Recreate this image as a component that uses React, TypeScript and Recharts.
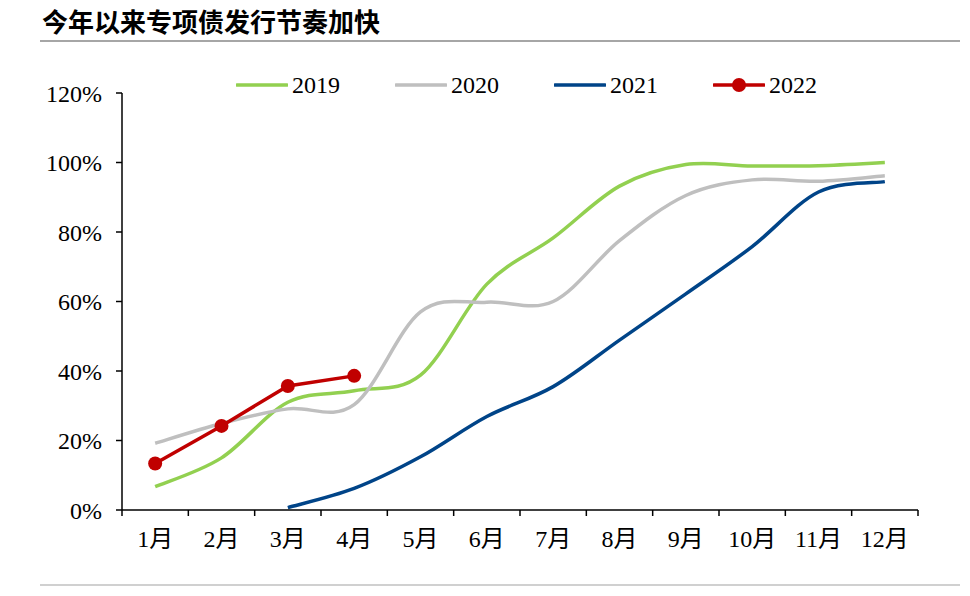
import React from "react";
import { LineChart, Line, XAxis, YAxis } from "recharts";

const months = ["1月", "2月", "3月", "4月", "5月", "6月", "7月", "8月", "9月", "10月", "11月", "12月"];
const s2019 = [6.7, 15.0, 31.0, 34.3, 38.8, 65.0, 78.3, 93.2, 99.4, 99.0, 99.1, 100.0];
const s2020 = [19.2, 24.9, 29.1, 30.3, 57.0, 59.8, 60.0, 77.5, 90.5, 95.0, 94.6, 96.2];
const s2021 = [null, null, 0.7, 6.2, 15.3, 26.9, 35.5, 48.9, 62.2, 75.8, 91.5, 94.5];
const s2022 = [13.4, 24.2, 35.7, 38.6, null, null, null, null, null, null, null, null];
const yTicks = [0, 20, 40, 60, 80, 100, 120];

const series = [
  { key: "y2019", name: "2019", color: "#92D050", dot: false },
  { key: "y2020", name: "2020", color: "#BFBFBF", dot: false },
  { key: "y2021", name: "2021", color: "#004488", dot: false },
  { key: "y2022", name: "2022", color: "#C00000", dot: true },
];

const data = months.map((m, i) => ({
  x: i + 0.5,
  month: m,
  y2019: s2019[i],
  y2020: s2020[i],
  y2021: s2021[i],
  y2022: s2022[i],
}));

const allTicks: number[] = [];
for (let i = 0; i <= months.length; i++) {
  allTicks.push(i);
  if (i < months.length) allTicks.push(i + 0.5);
}

const serif = "'Liberation Serif', 'Times New Roman', 'Noto Sans CJK SC', serif";

// Catmull-Rom style smoothing similar to spreadsheet "smoothed line"
function smoothCurve(context: any) {
  let pts: number[][] = [];
  return {
    areaStart() {},
    areaEnd() {},
    lineStart() {
      pts = [];
    },
    point(x: number, y: number) {
      pts.push([+x, +y]);
    },
    lineEnd() {
      const n = pts.length;
      if (!n) return;
      context.moveTo(pts[0][0], pts[0][1]);
      if (n === 1) {
        context.lineTo(pts[0][0], pts[0][1]);
        return;
      }
      for (let i = 0; i < n - 1; i++) {
        const p0 = pts[i - 1] || pts[i];
        const p1 = pts[i];
        const p2 = pts[i + 1];
        const p3 = pts[i + 2] || pts[i + 1];
        const c1x = p1[0] + (p2[0] - p0[0]) / 6;
        const c1y = p1[1] + (p2[1] - p0[1]) / 6;
        const c2x = p2[0] - (p3[0] - p1[0]) / 6;
        const c2y = p2[1] - (p3[1] - p1[1]) / 6;
        context.bezierCurveTo(c1x, c1y, c2x, c2y, p2[0], p2[1]);
      }
    },
  };
}

function XTick(props: any) {
  const { x, y, payload } = props;
  const v = payload.value as number;
  if (Number.isInteger(v)) {
    return <line x1={x} y1={y} x2={x} y2={y + 6} stroke="#000" strokeWidth={1.5} />;
  }
  return (
    <text x={x} y={y + 31} textAnchor="middle" dominantBaseline="middle" fill="#000" fontSize={24} fontFamily={serif}>
      {months[Math.round(v - 0.5)]}
    </text>
  );
}

export default function App() {
  return (
    <div style={{ position: "absolute", left: 0, top: 0, width: 970, height: 596, background: "#fff" }}>
      <div
        style={{
          position: "absolute",
          left: 42,
          top: 4,
          fontFamily: "'Noto Sans CJK SC', sans-serif",
          fontWeight: 700,
          fontSize: 26,
          lineHeight: "34px",
          color: "#000",
        }}
      >
        今年以来专项债发行节奏加快
      </div>
      <div style={{ position: "absolute", left: 40, top: 40, width: 920, height: 2, background: "#A6A6A6" }} />
      <div style={{ position: "absolute", left: 40, top: 584, width: 920, height: 2, background: "#D0D0D0" }} />
      <div
        style={{
          position: "absolute",
          left: 236,
          top: 70,
          height: 30,
          display: "flex",
          alignItems: "center",
          fontFamily: serif,
          fontSize: 24,
          color: "#000",
        }}
      >
        {series.map((s, i) => (
          <div key={s.key} style={{ display: "flex", alignItems: "center", marginRight: i < 3 ? 55 : 0 }}>
            <svg width={52} height={20} style={{ display: "block" }}>
              <line x1={1} y1={10} x2={51} y2={10} stroke={s.color} strokeWidth={3.5} strokeLinecap="round" />
              {s.dot && <circle cx={26} cy={10} r={7} fill={s.color} />}
            </svg>
            <span style={{ marginLeft: 4 }}>{s.name}</span>
          </div>
        ))}
      </div>
      <LineChart
        width={970}
        height={596}
        data={data}
        margin={{ top: 93, right: 52, bottom: 46, left: 0 }}
        style={{ position: "absolute", left: 0, top: 0 }}
      >
        <XAxis
          dataKey="x"
          type="number"
          domain={[0, 12]}
          ticks={allTicks}
          interval={0}
          tick={<XTick />}
          tickLine={false}
          tickSize={0}
          tickMargin={0}
          axisLine={{ stroke: "#000", strokeWidth: 1.5 }}
          height={40}
        />
        <YAxis
          domain={[0, 120]}
          ticks={yTicks}
          tickFormatter={(v: number) => `${v}%`}
          width={122}
          tickSize={6}
          tickMargin={14}
          axisLine={{ stroke: "#000", strokeWidth: 1.5 }}
          tickLine={{ stroke: "#000", strokeWidth: 1.5 }}
          tick={{ fill: "#000", fontSize: 24, fontFamily: serif }}
          interval={0}
        />
        {series.map((s) => (
          <Line
            key={s.key}
            dataKey={s.key}
            name={s.name}
            type={s.dot ? "linear" : (smoothCurve as any)}
            stroke={s.color}
            strokeWidth={3.5}
            dot={s.dot ? { r: 7, fill: s.color, stroke: s.color, strokeWidth: 0 } : false}
            activeDot={false}
            connectNulls={false}
            isAnimationActive={false}
          />
        ))}
      </LineChart>
    </div>
  );
}
